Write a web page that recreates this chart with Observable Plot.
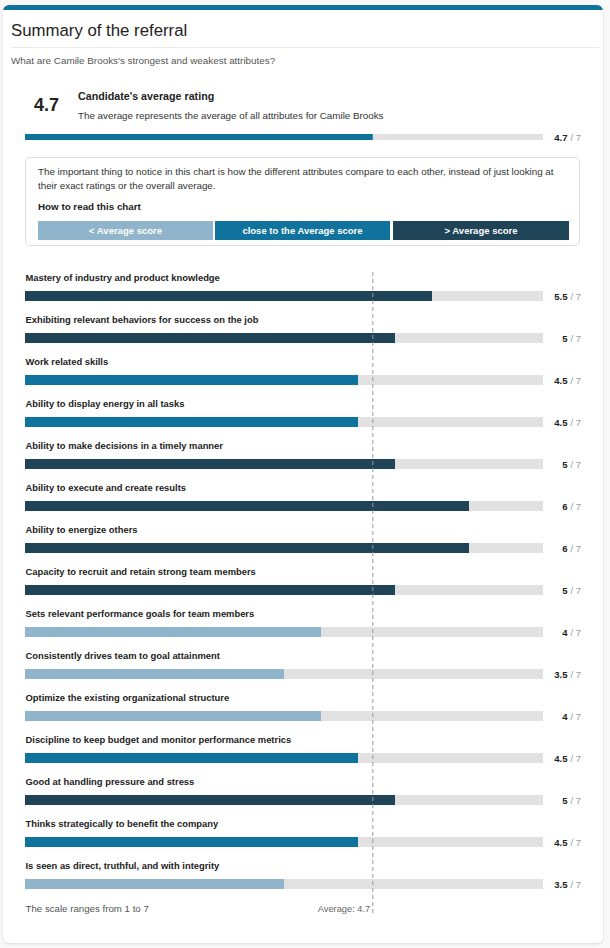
<!DOCTYPE html>
<html>
<head>
<meta charset="utf-8">
<script src="https://cdn.jsdelivr.net/npm/d3@7"></script>
<script src="https://cdn.jsdelivr.net/npm/@observablehq/plot@0.6"></script>
<style>
  html, body { margin: 0; padding: 0; background: #f8f8f8; }
  body { width: 610px; height: 948px; position: relative; font-family: "Liberation Sans", Arial, Helvetica, sans-serif; color: #222; overflow: hidden; }
  .card { position: absolute; left: 3px; top: 5px; width: 600px; height: 938px; background: #fff; border-radius: 6px; box-shadow: 0 1px 3px rgba(0,0,0,0.12); overflow: hidden; }
  .topbar { position: absolute; left: 0; top: 0; width: 100%; height: 5px; background: #10739e; }
  .abs { position: absolute; white-space: nowrap; }
  .title { left: 11px; top: 21px; font-size: 16.8px; color: #222; }
  .rule { position: absolute; left: 11px; top: 47px; width: 588px; height: 1px; background: #ececec; }
  .subtitle { left: 11px; top: 55px; font-size: 9.9px; color: #555; }
  .big { left: 34px; top: 95px; font-size: 18px; font-weight: bold; color: #222; }
  .avgtitle { left: 78px; top: 90px; font-size: 10.7px; font-weight: bold; color: #222; }
  .avgsub { left: 78px; top: 110px; font-size: 9.8px; color: #333; }
  .box { position: absolute; left: 25px; top: 157px; width: 555px; height: 89px; border: 1px solid #ddd; border-radius: 5px; box-sizing: border-box; }
  .boxtext { left: 38px; font-size: 9.8px; color: #333; }
  .btn { position: absolute; top: 221px; height: 19px; line-height: 19px; text-align: center; color: #fff; font-size: 9.5px; font-weight: bold; }
  #avgplot { position: absolute; left: 0; top: 124px; }
  #chart { position: absolute; left: 0; top: 262px; }
  svg text { font-family: "Liberation Sans", Arial, Helvetica, sans-serif; }
</style>
</head>
<body>
<div class="card"><div class="topbar"></div></div>
<div class="abs title">Summary of the referral</div>
<div class="rule"></div>
<div class="abs subtitle">What are Camile Brooks's strongest and weakest attributes?</div>
<div class="abs big">4.7</div>
<div class="abs avgtitle">Candidate's average rating</div>
<div class="abs avgsub">The average represents the average of all attributes for Camile Brooks</div>
<div id="avgplot"></div>
<div class="box"></div>
<div class="abs boxtext" style="top:166px">The important thing to notice in this chart is how the different attributes compare to each other, instead of just looking at</div>
<div class="abs boxtext" style="top:180px">their exact ratings or the overall average.</div>
<div class="abs boxtext" style="top:201px; font-weight:bold; color:#222">How to read this chart</div>
<div id="legend"></div>
<div id="chart"></div>
<script>
// ---- data ----
const attributes = [
  "Mastery of industry and product knowledge",
  "Exhibiting relevant behaviors for success on the job",
  "Work related skills",
  "Ability to display energy in all tasks",
  "Ability to make decisions in a timely manner",
  "Ability to execute and create results",
  "Ability to energize others",
  "Capacity to recruit and retain strong team members",
  "Sets relevant performance goals for team members",
  "Consistently drives team to goal attainment",
  "Optimize the existing organizational structure",
  "Discipline to keep budget and monitor performance metrics",
  "Good at handling pressure and stress",
  "Thinks strategically to benefit the company",
  "Is seen as direct, truthful, and with integrity"
];
const ratings = [5.5, 5, 4.5, 4.5, 5, 6, 6, 5, 4, 3.5, 4, 4.5, 5, 4.5, 3.5];
const levels = ["above", "above", "close", "close", "above", "above", "above", "above", "below", "below", "below", "close", "above", "close", "below"];
const levelNames = ["below", "close", "above"];
const levelLabels = ["< Average score", "close to the Average score", "> Average score"];
const levelColors = ["#8fb4cc", "#10739e", "#1f4458"];
const average = 4.7;
const scaleMax = 7;

const rows = attributes.map((a, i) => ({attribute: a, rating: ratings[i], level: levels[i]}));

// ---- legend (buttons) ----
const legendPos = [[38, 175], [215, 175], [393, 176]];
const legend = document.getElementById("legend");
levelNames.forEach((n, i) => {
  const d = document.createElement("div");
  d.className = "btn";
  d.style.left = legendPos[i][0] + "px";
  d.style.width = legendPos[i][1] + "px";
  d.style.background = levelColors[i];
  d.textContent = levelLabels[i];
  legend.appendChild(d);
});

const colorScale = {domain: levelNames, range: levelColors};

// ---- average bar ----
const avgPlot = Plot.plot({
  width: 610, height: 25,
  marginLeft: 25, marginRight: 67, marginTop: 0, marginBottom: 0,
  x: {domain: [0, scaleMax], axis: null},
  y: {axis: null, domain: ["avg"], range: [0, 25]},
  color: colorScale,
  marks: [
    Plot.barX([{v: scaleMax}], {x: "v", y: () => "avg", fill: "#e1e1e1", insetTop: 7, insetBottom: 7}),
    Plot.barX([{v: average}], {x: "v", y: () => "avg", fill: () => "close", insetTop: 7, insetBottom: 7}),
    Plot.text([{v: scaleMax}], {x: "v", y: () => "avg", text: () => "/ 7", textAnchor: "start", dx: 27, fill: "#999", fontSize: 9.5}),
    Plot.text([{v: scaleMax}], {x: "v", y: () => "avg", text: () => String(average), textAnchor: "end", dx: 24, fill: "#222", fontWeight: "bold", fontSize: 9.5})
  ]
});
document.getElementById("avgplot").appendChild(avgPlot);

// ---- main chart ----
const chart = Plot.plot({
  width: 610, height: 665,
  marginLeft: 25, marginRight: 67, marginTop: 10, marginBottom: 14,
  x: {domain: [0, scaleMax], axis: null},
  y: {domain: attributes, range: [12.5, 12.5 + 42 * attributes.length], padding: 0, axis: null},
  color: colorScale,
  marks: [
    Plot.barX(rows, {x: () => scaleMax, y: "attribute", fill: "#e1e1e1", insetTop: 16, insetBottom: 16}),
    Plot.barX(rows, {x: "rating", y: "attribute", fill: "level", insetTop: 16, insetBottom: 16}),
    Plot.text(rows, {x: 0, y: "attribute", text: "attribute", textAnchor: "start", dy: -18.5, fill: "#222", fontWeight: "bold", fontSize: 9.4}),
    Plot.text(rows, {x: () => scaleMax, y: "attribute", text: () => "/ 7", textAnchor: "start", dx: 27, fill: "#999", fontSize: 9.5}),
    Plot.text(rows, {x: () => scaleMax, y: "attribute", text: "rating", textAnchor: "end", dx: 24, fill: "#222", fontWeight: "bold", fontSize: 9.5}),
    Plot.ruleX([average], {stroke: "#999", strokeDasharray: "4,3", strokeWidth: 1, dx: -0.5}),
    Plot.text(["The scale ranges from 1 to 7"], {x: 0, frameAnchor: "bottom", text: d => d, textAnchor: "start", dy: -2, fill: "#555", fontSize: 9.7}),
    Plot.text([`Average: ${average}`], {x: average, frameAnchor: "bottom", text: d => d, textAnchor: "end", dx: -3, dy: -2, fill: "#666", fontSize: 9.3})
  ]
});
document.getElementById("chart").appendChild(chart);
</script>
</body>
</html>
